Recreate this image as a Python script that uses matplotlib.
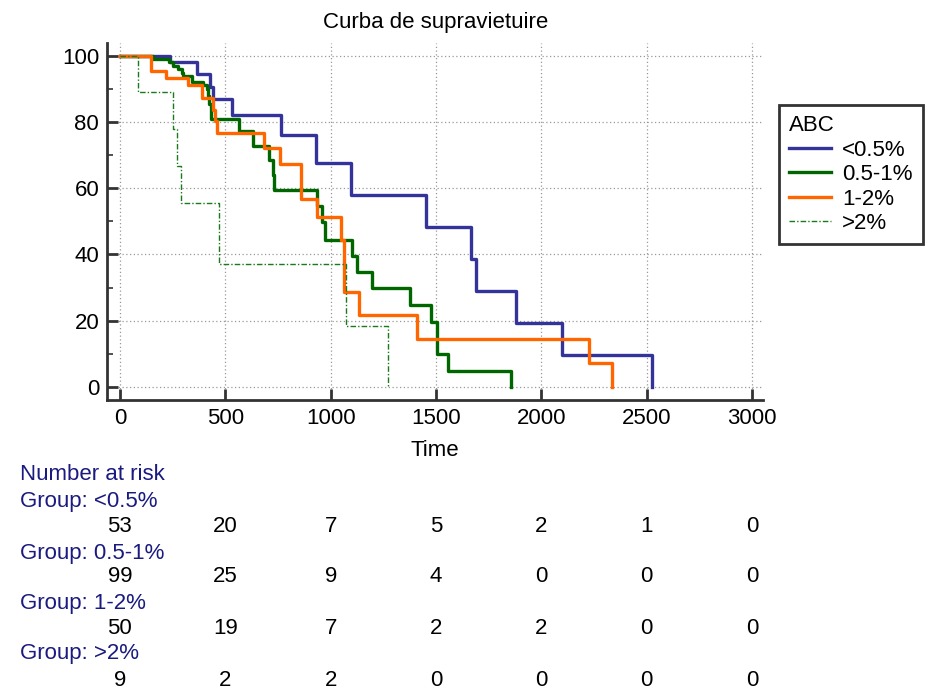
import matplotlib
matplotlib.use("Agg")
import matplotlib.pyplot as plt
import matplotlib.transforms as mtransforms
from matplotlib.ticker import MultipleLocator

plt.rcParams["font.family"] = ["Liberation Sans", "DejaVu Sans"]
plt.rcParams["font.size"] = 16

# Kaplan-Meier step estimates (time, survival %) per ABC group
t_lt05 = [0, 237, 364, 427, 443, 532, 764, 930, 1096, 1452, 1664, 1690, 1878, 2099, 2523]
s_lt05 = [100, 98.1, 94.4, 90.6, 86.8, 82.2, 76.1, 67.5, 57.8, 48.2, 38.5, 28.9, 19.3, 9.6, 0]

t_05_1 = [0, 158, 234, 253, 277, 293, 300, 340, 392, 411, 419, 425, 430, 564,
          633, 709, 725, 731, 933, 957, 973, 1100, 1123, 1194, 1376, 1474,
          1506, 1558, 1854]
s_05_1 = [100, 99.0, 98.0, 97.0, 96.0, 94.9, 93.7, 92.1, 91.0, 90.0, 87.7, 85.5,
          81.0, 77.2, 72.7, 68.5, 63.9, 59.4, 54.6, 49.9, 44.4, 39.5, 34.6,
          29.8, 24.7, 19.7, 9.9, 4.9, 0]

t_1_2 = [0, 146, 218, 324, 388, 443, 452, 462, 685, 762, 859, 933, 1050, 1062,
         1136, 1408, 2228, 2334]
s_1_2 = [100, 95.4, 93.2, 91.0, 87.2, 83.7, 80.3, 76.7, 72.0, 67.2, 56.8, 51.2,
         44.3, 28.8, 21.8, 14.5, 7.2, 0]

t_gt2 = [0, 84, 253, 272, 288, 471, 1071, 1270]
s_gt2 = [100, 88.9, 77.8, 66.7, 55.6, 37.0, 18.5, 0]

group_names = ["<0.5%", "0.5-1%", "1-2%", ">2%"]
risk_times = [0, 500, 1000, 1500, 2000, 2500, 3000]
risk_lt05 = [53, 20, 7, 5, 2, 1, 0]
risk_05_1 = [99, 25, 9, 4, 0, 0, 0]
risk_1_2 = [50, 19, 7, 2, 2, 0, 0]
risk_gt2 = [9, 2, 2, 0, 0, 0, 0]

W, H = 937, 693
fig = plt.figure(figsize=(W / 100, H / 100), dpi=100)
ax = fig.add_axes([107.5 / W, 1 - 400 / H, (763 - 107.5) / W, (400 - 43) / H])

curves = [
    (t_lt05, s_lt05, dict(color="#333399", lw=2.4, ls="-")),
    (t_05_1, s_05_1, dict(color="#006600", lw=2.4, ls="-")),
    (t_1_2, s_1_2, dict(color="#ff6600", lw=2.4, ls="-")),
    (t_gt2, s_gt2, dict(color="#1a7a1a", lw=1.0, ls=(0, (4, 1.5, 1, 1.5)))),
]
for (t, s, style), name in zip(curves, group_names):
    ax.step(t, s, where="post", label=name, **style)

ax.set_xlim(-59, 3052)
ax.set_ylim(-3.9, 103.8)
ax.set_xticks(risk_times)
ax.set_yticks([0, 20, 40, 60, 80, 100])
ax.yaxis.set_minor_locator(MultipleLocator(10))
ax.grid(True, which="major", ls=(0, (1, 2)), color="#999999", lw=0.9)
ax.set_axisbelow(True)

for side in ["top", "right"]:
    ax.spines[side].set_visible(False)
for side in ["left", "bottom"]:
    ax.spines[side].set_color("#333333")
    ax.spines[side].set_linewidth(2)
ax.tick_params(which="major", direction="in", length=8, width=2, color="#333333", pad=6)
ax.tick_params(which="minor", direction="in", length=4, width=1.2, color="#333333")
ax.tick_params(axis="x", which="minor", bottom=False)

ax.set_title("Curba de supravietuire", fontsize=16, pad=11)
ax.set_xlabel("Time", fontsize=16, labelpad=8)

leg = ax.legend(title="ABC", loc="upper left",
                bbox_to_anchor=(779 / W, 1 - 105 / H), bbox_transform=fig.transFigure,
                fancybox=False, edgecolor="#333333", framealpha=1,
                handlelength=1.9, handletextpad=0.5, labelspacing=0.16,
                borderpad=0.45, borderaxespad=0, fontsize=16, title_fontsize=16,
                alignment="left")
leg.get_frame().set_linewidth(2)

# number-at-risk table below the plot
label_color = "#1a1a80"
trans = mtransforms.blended_transform_factory(ax.transData, fig.transFigure)
fig.text(20 / W, 1 - 475 / H, "Number at risk", color=label_color, va="center")
rows = [risk_lt05, risk_05_1, risk_1_2, risk_gt2]
group_y = [501, 553, 603, 654]
count_y = [526, 577, 628, 680]
for name, counts, gy, cy in zip(group_names, rows, group_y, count_y):
    fig.text(20 / W, 1 - gy / H, "Group: " + name, color=label_color, va="center")
    for tx, n in zip(risk_times, counts):
        ax.text(tx, 1 - cy / H, str(n), transform=trans, ha="center", va="center",
                color="black")

fig.savefig("out.png", dpi=100)
